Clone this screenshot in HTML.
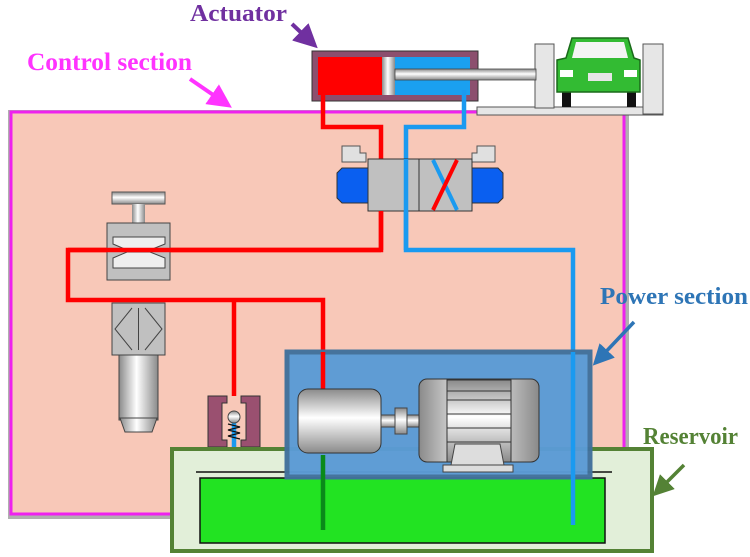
<!DOCTYPE html>
<html><head><meta charset="utf-8"><style>
html,body{margin:0;padding:0;background:#fff;}
svg{display:block;}
text{font-family:"Liberation Serif",serif;font-weight:bold;}
</style></head><body>
<svg width="750" height="557" viewBox="0 0 750 557" xmlns="http://www.w3.org/2000/svg">
<defs>
<linearGradient id="cyl" x1="0" y1="0" x2="0" y2="1">
<stop offset="0" stop-color="#8a8a8a"/><stop offset="0.45" stop-color="#ffffff"/><stop offset="1" stop-color="#8a8a8a"/></linearGradient>
<linearGradient id="cylh" x1="0" y1="0" x2="1" y2="0">
<stop offset="0" stop-color="#8a8a8a"/><stop offset="0.45" stop-color="#ffffff"/><stop offset="1" stop-color="#8a8a8a"/></linearGradient>
<marker id="ah" markerWidth="6" markerHeight="6" refX="3" refY="3" orient="auto"><path d="M0,0 L6,3 L0,6 z" fill="context-stroke"/></marker>
</defs>

<rect x="8" y="110" width="621" height="409" fill="#b0b0b0"/>
<rect x="11" y="112" width="613" height="402" fill="#f8c8b8" stroke="#ee22ee" stroke-width="3"/>

<rect x="477" y="107" width="186" height="8" fill="#e6e6e6" stroke="#555" stroke-width="1"/>
<rect x="535" y="44" width="19" height="64" fill="#e6e6e6" stroke="#555" stroke-width="1"/>
<rect x="643" y="44" width="20" height="70" fill="#e6e6e6" stroke="#555" stroke-width="1"/>
<rect x="562" y="92" width="9" height="15" fill="#111"/>
<rect x="627" y="92" width="9" height="15" fill="#111"/>
<path d="M566,58 L572,38 L628,38 L634,58 L640,60 L640,92 L557,92 L557,60 Z" fill="#33bb33" stroke="#1a6a1a" stroke-width="1.5"/>
<path d="M572,58 L576,42 L624,42 L628,58 Z" fill="#f4f4f4"/>
<rect x="560" y="70" width="13" height="7" fill="#fff"/><rect x="624" y="70" width="13" height="7" fill="#fff"/>
<rect x="588" y="73" width="24" height="8" fill="#e6e6e6"/>

<rect x="312" y="51" width="166" height="50" fill="#8c4f6e" stroke="#333" stroke-width="1"/>
<rect x="318" y="57" width="64" height="38" fill="#ff0000"/>
<rect x="382" y="57" width="13" height="38" fill="url(#cylh)"/>
<rect x="395" y="57" width="75" height="38" fill="#1aa0f0"/>
<rect x="395" y="69" width="141" height="11" fill="url(#cyl)" stroke="#444" stroke-width="0.8"/>

<g fill="none" stroke-linejoin="miter" stroke-width="4.5">
<path d="M323,90 L323,127 L381,127 L381,250 L68,250 L68,300 L323,300 L323,390" stroke="#ff0000"/>
<path d="M234,300 L234,396" stroke="#ff0000"/>
<path d="M464,90 L464,127 L406,127 L406,250 L573,250 L573,525" stroke="#1a9af0"/>
<path d="M234,420 L234,525" stroke="#1a9af0"/>
<path d="M323,420 L323,530" stroke="#0a8a1a"/>
</g>

<path d="M342,146 L360,146 L360,153 L366,153 L366,162 L342,162 Z" fill="#e0e0e0" stroke="#555"/>
<path d="M477,146 L495,146 L495,162 L472,162 L472,153 L477,153 Z" fill="#e0e0e0" stroke="#555"/>
<path d="M342,168 L368,168 L368,203 L342,203 L337,198 L337,173 Z" fill="#0a5ff0" stroke="#333"/>
<path d="M472,168 L498,168 L503,173 L503,198 L498,203 L472,203 Z" fill="#0a5ff0" stroke="#333"/>
<rect x="368" y="159" width="104" height="52" fill="#c0c0c0" stroke="#333" stroke-width="1"/>
<line x1="419" y1="159" x2="419" y2="211" stroke="#333"/>
<line x1="381" y1="211" x2="381" y2="250" stroke="#ff0000" stroke-width="4.5"/>
<line x1="406" y1="159" x2="406" y2="250" stroke="#1a9af0" stroke-width="4.5"/>
<line x1="433" y1="160" x2="457" y2="210" stroke="#1a9af0" stroke-width="4"/>
<line x1="457" y1="160" x2="433" y2="210" stroke="#ff0000" stroke-width="4"/>

<rect x="112" y="192" width="53" height="12" fill="url(#cyl)" stroke="#555"/>
<rect x="132" y="204" width="13" height="20" fill="url(#cylh)"/>
<rect x="107" y="223" width="63" height="57" fill="#c0c0c0" stroke="#444"/>
<path d="M113,237 L165,237 L165,244 L150,250 L127,250 L113,244 Z" fill="#eee" stroke="#444"/>
<path d="M113,268 L165,268 L165,258 L150,252 L127,252 L113,258 Z" fill="#eee" stroke="#444"/>
<line x1="68" y1="250" x2="381" y2="250" stroke="#ff0000" stroke-width="4.5"/>

<rect x="119" y="355" width="39" height="65" fill="url(#cylh)" stroke="#444"/>
<path d="M120,418 L157,418 L152,432 L125,432 Z" fill="url(#cylh)" stroke="#444"/>
<rect x="112" y="303" width="53" height="52" fill="#c0c0c0" stroke="#444"/>
<path d="M132,308 L115,329 L132,350 M145,308 L162,329 L145,350 M138.5,308 L138.5,350" fill="none" stroke="#444"/>

<path d="M208,396 L227,396 L227,403 L222,403 L222,440 L227,440 L227,447 L208,447 Z M241,396 L260,396 L260,447 L241,447 L241,440 L246,440 L246,403 L241,403 Z" fill="#9a5070" stroke="#333"/>
<circle cx="234" cy="417" r="6" fill="url(#cyl)" stroke="#444"/>
<path d="M228,424 L240,427 L228,430 L240,433 L228,436 L240,439" fill="none" stroke="#111" stroke-width="1.3"/>

<rect x="172" y="449" width="480" height="102" fill="#e2efd9" stroke="#548235" stroke-width="4"/>
<rect x="200" y="478" width="405" height="65" fill="#22e322" stroke="#111" stroke-width="1.5"/>
<line x1="196" y1="472" x2="612" y2="472" stroke="#111" stroke-width="1.5"/>

<rect x="287" y="352" width="303" height="125" fill="#5b9bd5" stroke="#41719c" stroke-width="5" opacity="0.97"/>
<line x1="323" y1="352" x2="323" y2="395" stroke="#ff0000" stroke-width="4.5"/>
<line x1="323" y1="455" x2="323" y2="530" stroke="#0a8a1a" stroke-width="4.5"/>
<line x1="573" y1="352" x2="573" y2="525" stroke="#1a9af0" stroke-width="4.5"/>
<rect x="298" y="389" width="83" height="64" rx="10" fill="url(#cyl)" stroke="#333"/>
<rect x="381" y="415" width="38" height="12" fill="url(#cyl)" stroke="#444"/>
<rect x="395" y="408" width="12" height="26" fill="url(#cyl)" stroke="#444"/>
<rect x="419" y="379" width="120" height="83" rx="8" fill="url(#cylh)" stroke="#333"/>
<rect x="447" y="380" width="64" height="82" fill="url(#cyl)" stroke="#333"/>
<path d="M447,391 L511,391 M447,400 L511,400 M447,414 L511,414 M447,428 L511,428 M447,442 L511,442" stroke="#333"/>
<path d="M455,444 L500,444 L504,465 L451,465 Z" fill="#ddd" stroke="#444"/>
<rect x="443" y="465" width="70" height="7" fill="#ddd" stroke="#444"/>

<text x="190" y="21" font-size="24" fill="#7030a0" textLength="97" lengthAdjust="spacingAndGlyphs">Actuator</text>
<line x1="292" y1="24" x2="309" y2="40" stroke="#7030a0" stroke-width="4" marker-end="url(#ah)"/>
<text x="27" y="70" font-size="25" fill="#ff33ff" textLength="165" lengthAdjust="spacingAndGlyphs">Control section</text>
<line x1="190" y1="79" x2="222" y2="101" stroke="#ff33ff" stroke-width="4" marker-end="url(#ah)"/>
<text x="600" y="304" font-size="24" fill="#2e75b6" textLength="148" lengthAdjust="spacingAndGlyphs">Power section</text>
<line x1="634" y1="322" x2="600" y2="358" stroke="#2e75b6" stroke-width="3.5" marker-end="url(#ah)"/>
<text x="643" y="444" font-size="24" fill="#548235" textLength="95" lengthAdjust="spacingAndGlyphs">Reservoir</text>
<line x1="684" y1="465" x2="660" y2="489" stroke="#548235" stroke-width="3.5" marker-end="url(#ah)"/>
</svg>
</body></html>
